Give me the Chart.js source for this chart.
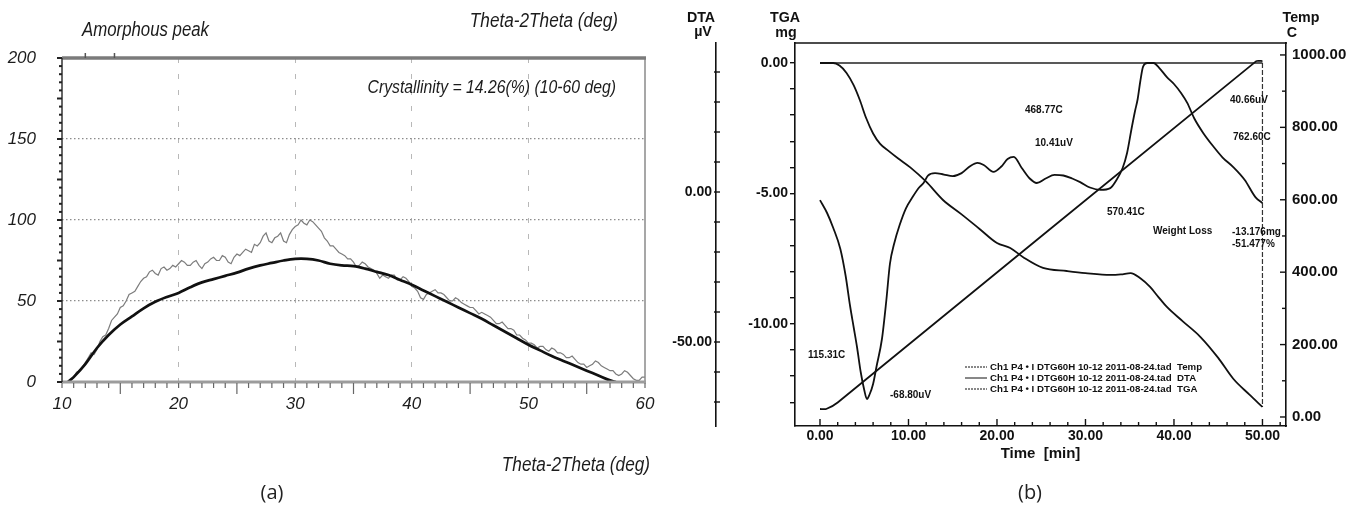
<!DOCTYPE html>
<html><head><meta charset="utf-8">
<script src="https://cdn.jsdelivr.net/npm/chart.js@4.4.0/dist/chart.umd.min.js"></script>
<style>
html,body{margin:0;padding:0;background:#fff;}
#wrap{position:relative;width:1349px;height:508px;overflow:hidden;background:#fff;}
canvas{position:absolute;top:0;}
#ca{left:0;} #cb{left:660px;}
</style></head><body>
<div id="wrap"><canvas id="ca" width="660" height="508"></canvas><canvas id="cb" width="689" height="508"></canvas></div>
<script>
// ---------- (a) XRD data ----------
// measured scan: readings at the 0.5 deg grid and at the 0.25 deg offsets between them
const xrdAngle = [10.5,11,11.5,12,12.5,13,13.5,14,14.5,15,15.5,16,16.5,17,17.5,18,18.5,19,19.5,20,
  20.5,21,21.5,22,22.5,23,23.5,24,24.5,25,25.5,26,26.5,27,27.5,28,28.5,29,29.5,30,
  30.5,31,31.5,32,32.5,33,33.5,34,34.5,35,35.5,36,36.5,37,37.5,38,38.5,39,39.5,40,
  40.5,41,41.5,42,42.5,43,43.5,44,44.5,45,45.5,46,46.5,47,47.5,48,48.5,49,49.5,50,
  50.5,51,51.5,52,52.5,53,53.5,54,54.5,55,55.5,56,56.5,57,57.5,58,58.5,59,59.5,60];
const xrdIntensity = [0,3,7,12,18,20,28,33,40,46,50,55,59,64,68,67,70,69,72,73,
  74,72,75,70,74,77,75,77,73,79,80,81,85,86,92,86,90,87,91,96,
  100,97,99,95,89,84,82,79,76,74,72,73,70,67,66,64,66,63,64,59,
  56,51,55,57,55,52,50,51,48,46,44,43,41,38,36,35,33,29,27,24,
  23,22,20,21,18,17,15,14,11,9,11,12,9,7,5,5,6,2,1,3];
const xrdIntensityMid = [1,6,9,15,17,25,29,38,42,47,54,56,62,65,69,66,71,70,71,75,
  72,74,72,73,76,75,78,74,77,78,82,80,84,90,87,89,92,86,94,97,
  98,100,97,93,87,84,80,78,76,71,74,71,69,64,65,66,63,65,62,58,
  52,54,56,55,54,50,52,49,47,46,42,42,40,36,37,33,32,29,26,24,
  21,22,19,20,18,15,16,12,11,10,13,10,8,7,4,7,4,1,3];
const fitAngle = [10.5,11,12,13,14,15,16,17,18,19,20,21,22,23,24,25,26,27,28,29,30,31,32,33,34,35,36,37,38,39,40,
  41,42,43,44,45,46,47,48,49,50,51,52,53,54,55,56,57,57.5];
const fitIntensity = [0,3,11,21,29,35.5,40.5,45.5,49.5,52.5,55,58.5,61.5,63.5,65.5,67.5,70,72,73.5,75,76,76,75,73,72,71.5,70,68,66,63,60,
  56.5,53,49.5,46,42.5,39,35,31,27,23,19.5,16,13,10,7,4,1,0];
const xrdTicksX = [10,20,30,40,50,60];
const xrdTicksY = [0,50,100,150,200];

// ---------- (b) DTA / TGA data ----------
const dtaTime = [0,0.8,1.5,2.3,2.9,3.4,3.8,4.2,4.6,5.0,5.3,5.6,6.0,6.4,7.0,7.5,7.9,8.4,9.0,9.7,10.5,11.2,11.7,12.2,13,14,15,16,17,17.8,18.5,19.6,20.5,21.2,21.9,
  22.8,23.7,24.5,25.5,26.5,27.5,28.5,29.4,30.5,31.7,32.8,33.5,34.2,34.7,35.2,35.6,35.9,36.2,36.5,37,37.7,38.3,39.2,40,40.8,41.5,42.3,43.3,44.5,45.5,46.7,48,49.2,50];
const dtaValue = [-2.7,-7,-12,-19,-28,-38,-45,-52,-60,-66,-69,-67.5,-64,-58,-49,-36,-24,-17,-11,-5.5,-1.5,1.5,3,5.5,6.3,5.8,5.3,6.3,8.7,9.7,9,6.7,8.5,11,11.7,
  8,4.5,3,4.5,5.7,5.5,4.5,3.3,1.5,0.7,1.3,4,8,13,21,27,31,37,41.7,43,43,41.5,38.3,36,33,29.7,24.5,19.7,15,11.5,8.3,4,-1.7,-3.7];
const tgaTime = [0,1.5,2.2,3,3.8,4.5,5.2,6,6.8,7.6,8.8,10.2,12,13.9,16,18,20,21.5,23,25.2,27.9,30,32.8,34,35.1,36.2,37.3,38.2,39.2,41,43,45,46.7,48.5,50];
const tgaValue = [0,0,-0.1,-0.38,-0.85,-1.42,-2.1,-2.7,-3.1,-3.33,-3.65,-4.0,-4.55,-5.25,-5.8,-6.35,-6.9,-7.09,-7.45,-7.85,-7.97,-8.05,-8.12,-8.1,-8.05,-8.25,-8.58,-8.95,-9.35,-9.9,-10.5,-11.3,-12.1,-12.7,-13.18];
const tempTime = [0,0.7,2,49.3,50];
const tempValue = [22,22,40,983,983];
const baseTime = [0,50];
const baseWeight = [0,0];
const endTime = [50,50];
const endWeight = [0,-13.18];
const timeTicks = [0,10,20,30,40,50];
const tgaTicks = [-13,-12,-11,-10,-9,-8,-7,-6,-5,-4,-3,-2,-1,0];
const dtaTicks = [-70,-60,-50,-40,-30,-20,-10,0,10,20,30,40];
const tempTicks = [0,100,200,300,400,500,600,700,800,900,1000];
const legendNames = ['Ch1 P4 \u2022 I DTG60H 10-12 2011-08-24.tad  Temp','Ch1 P4 \u2022 I DTG60H 10-12 2011-08-24.tad  DTA','Ch1 P4 \u2022 I DTG60H 10-12 2011-08-24.tad  TGA'];

const pts = (xs, ys) => xs.map((x, i) => ({x, y: ys[i]}));
const scanPts = () => {
  const out = [];
  xrdAngle.forEach((a, i) => {
    out.push({x: a, y: xrdIntensity[i]});
    if (i < xrdIntensityMid.length) out.push({x: a + 0.25, y: xrdIntensityMid[i]});
  });
  return out;
};
const SANS = "'Liberation Sans', Arial, sans-serif";

function txt(ctx, s, x, y, font, align, sx, color) {
  ctx.save();
  ctx.font = font; ctx.fillStyle = color || '#111'; ctx.textBaseline = 'middle';
  ctx.translate(x, y); ctx.scale(sx || 1, 1);
  ctx.textAlign = align || 'left';
  ctx.fillText(s, 0, 0);
  ctx.restore();
}
function seg(ctx, x1, y1, x2, y2) { ctx.beginPath(); ctx.moveTo(x1, y1); ctx.lineTo(x2, y2); ctx.stroke(); }
function noPad(s) { s.paddingLeft = 0; s.paddingRight = 0; s.paddingTop = 0; s.paddingBottom = 0; }

// ---------- Chart (a) ----------
const frameA = {
  id: 'frameA',
  afterDatasetsDraw(chart) {
    const {ctx, chartArea: a, scales: {x, y}} = chart;
    ctx.save();
    ctx.strokeStyle = '#8a8a8a'; ctx.lineWidth = 1.5; seg(ctx, a.right, a.top, a.right, a.bottom);
    ctx.strokeStyle = '#7b7b7b'; ctx.lineWidth = 3.5; seg(ctx, a.left, a.top, a.right + 1, a.top);
    ctx.strokeStyle = '#9c9c9c'; ctx.lineWidth = 3; seg(ctx, a.left, a.bottom, a.right + 1, a.bottom);
    ctx.strokeStyle = '#333'; ctx.lineWidth = 1.5; seg(ctx, a.left, a.top, a.left, a.bottom);
    ctx.strokeStyle = '#222'; ctx.lineWidth = 2;
    for (let v = 0; v <= 200; v += 5) {
      const py = y.getPixelForValue(v); const len = v % 25 === 0 ? 5 : 3;
      seg(ctx, a.left - len, py, a.left, py);
    }
    ctx.strokeStyle = '#666'; ctx.lineWidth = 1.2;
    for (let v = 10; v <= 60; v++) {
      const px = x.getPixelForValue(v); const len = (v % 5 === 0 && v % 10 !== 0) ? 12 : 6;
      seg(ctx, px, a.bottom + 1, px, a.bottom + len);
    }
    ctx.strokeStyle = '#555'; ctx.lineWidth = 1.5;
    [12, 14.5].forEach(v => { const px = x.getPixelForValue(v); seg(ctx, px, a.top - 5, px, a.top); });
    ctx.restore();
  },
  afterDraw(chart) {
    const {ctx} = chart;
    txt(ctx, 'Amorphous peak', 82, 30, 'italic 20px ' + SANS, 'left', 0.84, '#1c1c1c');
    txt(ctx, 'Theta-2Theta (deg)', 618, 21, 'italic 20px ' + SANS, 'right', 0.86, '#1c1c1c');
    txt(ctx, 'Crystallinity = 14.26(%) (10-60 deg)', 616, 88, 'italic 19px ' + SANS, 'right', 0.83, '#1c1c1c');
    txt(ctx, 'Theta-2Theta (deg)', 650, 465, 'italic 20px ' + SANS, 'right', 0.86, '#1c1c1c');
    txt(ctx, '(a)', 272, 493, "20px 'Open Sans', 'Noto Sans', sans-serif", 'center', 1, '#222');
  }
};

new Chart(document.getElementById('ca'), {
  type: 'line',
  data: { datasets: [
    { data: pts(fitAngle, fitIntensity), borderColor: '#111', borderWidth: 2.7, pointRadius: 0, tension: 0.35, fill: false },
    { data: scanPts(), borderColor: '#7c7c7c', borderWidth: 1.2, pointRadius: 0, tension: 0, fill: false }
  ]},
  options: {
    responsive: false, animation: false, devicePixelRatio: 1,
    layout: { padding: { top: 58, left: 0, right: 15, bottom: 26 } },
    plugins: { legend: { display: false }, tooltip: { enabled: false } },
    scales: {
      x: {
        type: 'linear', min: 10, max: 60,
        afterBuildTicks: s => { s.ticks = xrdTicksX.map(v => ({value: v})); },
        afterFit: s => { s.height = 100; noPad(s); },
        ticks: { font: { family: SANS, size: 17, style: 'italic' }, color: '#1c1c1c', padding: 12, maxRotation: 0, autoSkip: false },
        grid: { drawTicks: false, lineWidth: 1, color: c => (c.tick && (c.tick.value === 10 || c.tick.value === 60)) ? 'rgba(0,0,0,0)' : '#b8b8b8' },
        border: { display: false, dash: [5, 11] }
      },
      y: {
        type: 'linear', min: 0, max: 200,
        afterBuildTicks: s => { s.ticks = xrdTicksY.map(v => ({value: v})); },
        afterFit: s => { s.width = 62; noPad(s); },
        ticks: { font: { family: SANS, size: 17, style: 'italic' }, color: '#1c1c1c', padding: 26 },
        grid: { drawTicks: false, lineWidth: 1.2, color: c => (c.tick && (c.tick.value === 0 || c.tick.value === 200)) ? 'rgba(0,0,0,0)' : '#8c8c8c' },
        border: { display: false, dash: [1.5, 2.5] }
      }
    }
  },
  plugins: [frameA]
});

// ---------- Chart (b) ----------
const frameB = {
  id: 'frameB',
  afterDatasetsDraw(chart) {
    const {ctx, chartArea: a, scales: {x, dta, temp}} = chart;
    ctx.save();
    ctx.strokeStyle = '#111'; ctx.lineWidth = 1.6;
    seg(ctx, a.left - 1, a.top, a.right + 1, a.top);
    ctx.lineWidth = 1.4;
    for (let t = 0; t <= 52; t += 2) {
      const px = x.getPixelForValue(t); const len = t % 10 === 0 ? 7 : 4;
      seg(ctx, px, a.bottom, px, a.bottom - len);
    }
    tempTicks.forEach(v => { const py = temp.getPixelForValue(v); const len = v % 200 === 0 ? 6 : 4; seg(ctx, a.right - len, py, a.right, py); });
    dtaTicks.forEach(v => { const py = dta.getPixelForValue(v); seg(ctx, dta.right - 2, py, dta.right + 4, py); });
    // legend
    legendNames.forEach((n, i) => {
      const yy = 367 + i * 11;
      ctx.lineWidth = 1; ctx.setLineDash(i === 1 ? [] : [2, 1]);
      seg(ctx, 305, yy, 327, yy);
      ctx.setLineDash([]);
      txt(ctx, n, 330, yy, 'bold 9.7px ' + SANS, 'left', 1, '#111');
    });
    ctx.restore();
  },
  afterDraw(chart) {
    const {ctx} = chart;
    const B = 'bold 15px ' + SANS;
    txt(ctx, 'DTA', 41, 18, B, 'center', 0.95);
    txt(ctx, '\u00b5V', 43, 32, B, 'center', 0.95);
    txt(ctx, 'TGA', 125, 18, B, 'center', 0.95);
    txt(ctx, 'mg', 126, 33, B, 'center', 0.95);
    txt(ctx, 'Temp', 641, 18, B, 'center', 0.95);
    txt(ctx, 'C', 632, 33, B, 'center', 0.95);
    const S = 'bold 10px ' + SANS;
    txt(ctx, '468.77C', 365, 110, S);
    txt(ctx, '10.41uV', 375, 143, S);
    txt(ctx, '40.66uV', 570, 100, S);
    txt(ctx, '762.60C', 573, 137, S);
    txt(ctx, '570.41C', 447, 212, S);
    txt(ctx, 'Weight Loss', 493, 231, S);
    txt(ctx, '-13.176mg', 572, 232, S);
    txt(ctx, '-51.477%', 572, 244, S);
    txt(ctx, '115.31C', 148, 355, S);
    txt(ctx, '-68.80uV', 230, 395, S);
    txt(ctx, '(b)', 370, 493, "20px 'Open Sans', 'Noto Sans', sans-serif", 'center', 1, '#222');
  }
};

const F14 = { family: SANS, size: 14, weight: 'bold' };
new Chart(document.getElementById('cb'), {
  type: 'line',
  data: { datasets: [
    { data: pts(tempTime, tempValue), yAxisID: 'temp', borderColor: '#111', borderWidth: 1.8, pointRadius: 0, tension: 0.2, fill: false },
    { data: pts(dtaTime, dtaValue), yAxisID: 'dta', borderColor: '#111', borderWidth: 1.8, pointRadius: 0, cubicInterpolationMode: 'monotone', fill: false },
    { data: pts(tgaTime, tgaValue), yAxisID: 'tga', borderColor: '#111', borderWidth: 1.8, pointRadius: 0, cubicInterpolationMode: 'monotone', fill: false },
    { data: pts(baseTime, baseWeight), yAxisID: 'tga', borderColor: '#222', borderWidth: 1.4, pointRadius: 0, fill: false },
    { data: pts(endTime, endWeight), yAxisID: 'tga', borderColor: '#333', borderWidth: 1.2, borderDash: [5, 2], pointRadius: 0, fill: false }
  ]},
  options: {
    responsive: false, animation: false, devicePixelRatio: 1,
    layout: { padding: { top: 43, left: 0, right: 0, bottom: 45 } },
    plugins: { legend: { display: false }, tooltip: { enabled: false } },
    scales: {
      x: {
        type: 'linear', min: -2.825, max: 52.66,
        afterBuildTicks: s => { s.ticks = timeTicks.map(v => ({value: v})); },
        afterFit: s => { s.height = 37; noPad(s); },
        ticks: { font: F14, color: '#111', padding: 2, maxRotation: 0, autoSkip: false, callback: v => v.toFixed(2) },
        grid: { display: false, drawTicks: false },
        border: { display: true, color: '#111', width: 1.6 },
        title: { display: true, text: 'Time  [min]', font: { family: SANS, size: 15, weight: 'bold' }, color: '#111', padding: { top: 0, bottom: 0 } }
      },
      tga: {
        type: 'linear', position: 'left', weight: 0, min: -13.91, max: 0.766,
        afterBuildTicks: s => { s.ticks = tgaTicks.map(v => ({value: v})); },
        afterFit: s => { s.width = 79; noPad(s); },
        ticks: { font: F14, color: '#111', padding: 2, autoSkip: false, callback: v => (v % 5 === 0 ? (v === 0 ? '0.00' : v.toFixed(2)) : '') },
        grid: { display: true, drawOnChartArea: false, drawTicks: true, tickLength: 5, color: '#111', lineWidth: 1.4 },
        border: { display: true, color: '#111', width: 1.6 }
      },
      dta: {
        type: 'linear', position: 'left', weight: 1, min: -78, max: 49.67,
        afterBuildTicks: s => { s.ticks = dtaTicks.map(v => ({value: v})); },
        afterFit: s => { s.width = 56; noPad(s); },
        ticks: { font: F14, color: '#111', padding: 4, autoSkip: false, callback: v => (v === 0 ? '0.00' : v === -50 ? '-50.00' : '') },
        grid: { display: false, drawOnChartArea: false, drawTicks: false },
        border: { display: true, color: '#111', width: 1.6 }
      },
      temp: {
        type: 'linear', position: 'right', min: -24.9, max: 1033,
        afterBuildTicks: s => { s.ticks = tempTicks.map(v => ({value: v})); },
        afterFit: s => { s.width = 63; noPad(s); },
        ticks: { font: { family: SANS, size: 15, weight: 'bold' }, color: '#111', padding: 6, autoSkip: false, callback: v => (v % 200 === 0 ? v.toFixed(2) : '') },
        grid: { display: false, drawOnChartArea: false, drawTicks: false },
        border: { display: true, color: '#111', width: 1.6 }
      }
    }
  },
  plugins: [frameB]
});
</script>
</body></html>
